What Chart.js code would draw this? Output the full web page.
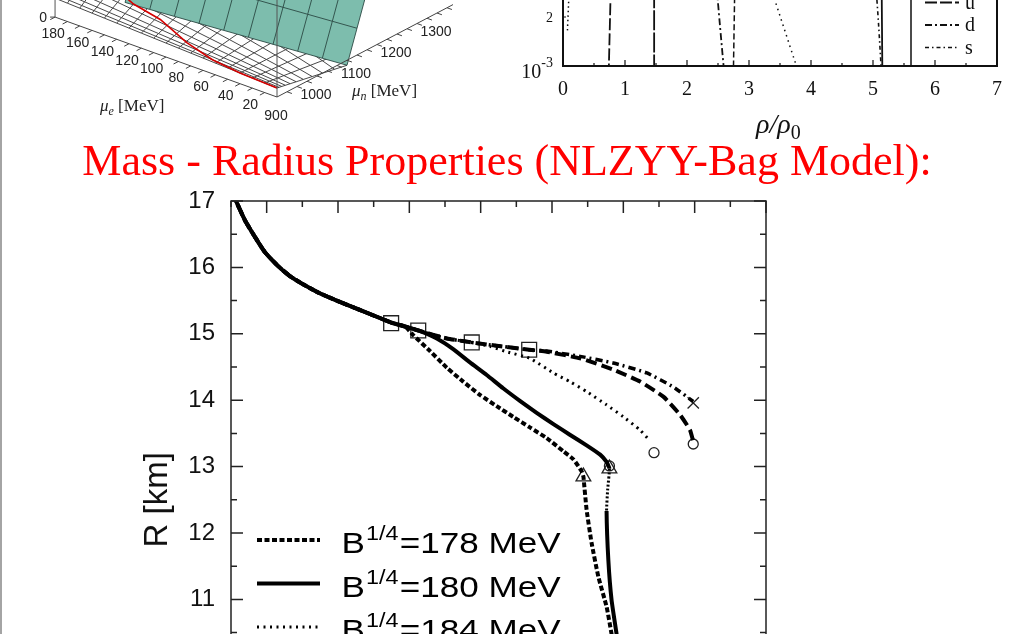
<!DOCTYPE html>
<html>
<head>
<meta charset="utf-8">
<script src="https://cdn.jsdelivr.net/npm/chart.js@4.4.0/dist/chart.umd.min.js"></script>
<style>
html, body { margin: 0; padding: 0; width: 1014px; height: 634px; overflow: hidden; background: #fff; }
canvas { position: absolute; }
#edge { position: absolute; left: 0; top: 0; width: 2px; height: 634px; background: #a4a4a4; }
#title { position: absolute; left: 0; top: 139px; width: 1014px; text-align: center; white-space: nowrap;
         font: 44px/44px "Liberation Serif", serif; color: #ff0000; }
#surf { left: 0; top: 0; }
#frac { left: 470px; top: -480px; }
#mr { left: 100px; top: 170px; }
</style>
</head>
<body>
<div id="edge"></div>
<canvas id="surf" width="470" height="130"></canvas>
<canvas id="frac" width="544" height="640"></canvas>
<div id="title">Mass - Radius Properties (NLZYY-Bag Model):</div>
<canvas id="mr" width="700" height="700"></canvas>
<script>
// ---------- mass-radius curves (M in solar masses, R in km) ----------
const massCommon   = [0.500, 0.514, 0.539, 0.567, 0.595, 0.632, 0.665, 0.707, 0.749, 0.805, 0.861, 0.949, 0.988];
const radiusCommon = [17.16, 17.00, 16.71, 16.46, 16.23, 16.02, 15.87, 15.73, 15.61, 15.48, 15.36, 15.17, 15.11];

const mass178   = [1.011, 1.058, 1.105, 1.151, 1.198, 1.245, 1.291, 1.338, 1.385, 1.432, 1.460, 1.483, 1.488, 1.489, 1.497, 1.511, 1.530, 1.553, 1.567, 1.579];
const radius178 = [14.98, 14.74, 14.49, 14.28, 14.08, 13.91, 13.75, 13.59, 13.43, 13.23, 13.11, 12.93, 12.85, 12.80, 12.35, 11.85, 11.34, 10.89, 10.48, 10.10];

const mass180   = [1.025, 1.077, 1.123, 1.170, 1.217, 1.263, 1.310, 1.357, 1.404, 1.450, 1.497, 1.535, 1.553, 1.561, 1.556, 1.553, 1.558, 1.567, 1.581, 1.591];
const radius180 = [15.05, 14.93, 14.77, 14.57, 14.38, 14.18, 13.99, 13.81, 13.64, 13.48, 13.32, 13.18, 13.07, 12.97, 12.65, 12.33, 11.59, 10.99, 10.48, 10.09];
const dotted180 = [13, 15]; // point range of mass180 drawn dotted

const massUpper   = [1.025, 1.105, 1.175];
const radiusUpper = [15.05, 14.93, 14.87];

const mass184   = [1.226, 1.273, 1.338, 1.404, 1.450, 1.497, 1.553, 1.600, 1.647, 1.674];
const radius184 = [14.81, 14.73, 14.63, 14.41, 14.28, 14.13, 13.93, 13.75, 13.55, 13.39];

const mass190   = [1.245, 1.336, 1.385, 1.479, 1.572, 1.647, 1.713, 1.759, 1.787, 1.796];
const radius190 = [14.82, 14.76, 14.73, 14.63, 14.46, 14.28, 14.05, 13.78, 13.55, 13.38];

const mass200   = [1.245, 1.336, 1.385, 1.479, 1.572, 1.666, 1.740, 1.796];
const radius200 = [14.82, 14.76, 14.74, 14.66, 14.56, 14.41, 14.20, 13.98];

const bagValues = [178, 180, 184, 190, 200];

const squareMass = [0.949, 1.025, 1.175, 1.336], squareRadius = [15.16, 15.05, 14.87, 14.76];
const triangleMass = [1.488, 1.561], triangleRadius = [12.85, 12.97];
const circleMass = [1.561, 1.686, 1.796], circleRadius = [13.01, 13.21, 13.34];
const crossMass = [1.796], crossRadius = [13.96];

// ---------- particle fractions panel (top right), log y ----------
const rhoE  = [0.10, 0.07],        fracE  = [0.0030, 0.0016];
const rhoU  = [0.77, 0.74],        fracU  = [0.0030, 0.0010];
const rhoMu = [1.47, 1.47],        fracMu = [0.0030, 0.0010];
const rhoD  = [2.48, 2.53, 2.59],  fracD  = [0.0030, 0.0018, 0.0010];
const rhoN  = [2.77, 2.75],        fracN  = [0.0030, 0.0010];
const rhoP  = [3.38, 3.75],        fracP  = [0.0028, 0.00104];
const rhoS  = [5.05, 5.09, 5.13],  fracS  = [0.0030, 0.0018, 0.0010];
const rhoL  = [5.14, 5.15],        fracL  = [0.0030, 0.0010];
const fracLegend = ['n', 'p', 'e', 'μ', 'u', 'd', 's'];
const fracYTicks = [0.001, 0.002, 0.005, 0.01, 0.02, 0.05, 0.1, 0.2, 0.5, 1];

// ---------- 3D surface panel (top left), grid in MeV ----------
const surfMuE = [0, 10, 20, 30, 40, 50, 60, 70, 80, 90, 100, 110, 120, 130, 140, 150, 160, 170, 180];
const surfMuN = [900, 905, 912, 921, 933, 948, 966, 988, 1014, 1044, 1075];
const tealMuE = [0, 20, 40, 60, 80, 100, 120, 140, 160, 180];
const tealMuN = [1075, 1100, 1125, 1150, 1175, 1200, 1250, 1300];
const redMuE  = [0, 30, 54, 79, 107, 130, 145];
const redMuN  = [900, 900, 905, 918, 938, 942, 950];
const muELabels = [20, 40, 60, 80, 100, 120, 140, 160, 180];
const muNLabels = [900, 1000, 1100, 1200, 1300];

const pts = (xs, ys) => xs.map((x, i) => ({x: x, y: ys[i]}));

// ================= main M-R chart =================
function isMajorMass(v) {
    return Math.abs(Math.round(v * 5) - v * 5) < 1e-6;
}

const mrFrame = {
    id: 'mrFrame',
    afterDatasetsDraw(chart) {
        const {ctx, chartArea: a, scales: {x, y}} = chart;
        ctx.save();
        ctx.strokeStyle = '#222';
        ctx.lineWidth = 1.5;
        ctx.strokeRect(a.left, a.top, a.right - a.left, a.bottom - a.top);
        ctx.beginPath();
        x.ticks.forEach(t => {
            const p = x.getPixelForValue(t.value);
            const len = isMajorMass(t.value) ? 12 : 6;
            ctx.moveTo(p, a.top); ctx.lineTo(p, a.top + len);
            ctx.moveTo(p, a.bottom); ctx.lineTo(p, a.bottom - len);
        });
        y.ticks.forEach(t => {
            const p = y.getPixelForValue(t.value);
            const len = Number.isInteger(t.value) ? 12 : 6;
            ctx.moveTo(a.left, p); ctx.lineTo(a.left + len, p);
            ctx.moveTo(a.right, p); ctx.lineTo(a.right - len, p);
        });
        ctx.stroke();
        ctx.restore();
    }
};

const bagLegend = {
    id: 'bagLegend',
    afterDraw(chart) {
        const {ctx, chartArea: a} = chart;
        chart.data.datasets.filter(d => d.bag).forEach((d, i) => {
            const yy = a.top + 339 + i * 43.5;
            ctx.save();
            ctx.strokeStyle = '#000';
            ctx.lineWidth = d.borderWidth;
            ctx.lineCap = 'butt';
            ctx.setLineDash(d.borderDash || []);
            ctx.beginPath();
            ctx.moveTo(a.left + 26, yy);
            ctx.lineTo(a.left + 89, yy);
            ctx.stroke();
            ctx.translate(a.left + 110.5, yy);
            ctx.scale(1.17, 1);
            ctx.fillStyle = '#000';
            ctx.font = '30px "Liberation Sans"';
            ctx.fillText('B', 0, 13);
            let w = ctx.measureText('B').width + 1;
            ctx.font = '20px "Liberation Sans"';
            ctx.fillText('1/4', w, 0);
            w += ctx.measureText('1/4').width + 1;
            ctx.font = '30px "Liberation Sans"';
            ctx.fillText('=' + d.bag + ' MeV', w, 13);
            ctx.restore();
        });
    }
};

const curve = (label, bag, xs, ys, width, dash) => ({
    label: label, bag: bag, data: pts(xs, ys),
    borderColor: '#000', borderWidth: width, borderDash: dash, borderCapStyle: 'butt',
    pointRadius: 0, fill: false, tension: 0.15
});
const marks = (xs, ys, style, r) => ({
    data: pts(xs, ys), showLine: false, pointStyle: style, pointRadius: r,
    pointBorderWidth: 1.3, pointBorderColor: '#222', pointBackgroundColor: 'rgba(0,0,0,0)', borderColor: '#222'
});

const off180 = massCommon.length;
const in180Dots = c => c.p0DataIndex >= off180 + dotted180[0] && c.p0DataIndex < off180 + dotted180[1];
const set180 = curve('B1/4=180 MeV', bagValues[1], [...massCommon, ...mass180], [...radiusCommon, ...radius180], 4, []);
set180.segment = {
    borderDash: c => in180Dots(c) ? [2, 2] : undefined,
    borderWidth: c => in180Dots(c) ? 3 : undefined
};

new Chart(document.getElementById('mr'), {
    type: 'line',
    data: {
        datasets: [
            curve('B1/4=178 MeV', bagValues[0], [...massCommon, ...mass178], [...radiusCommon, ...radius178], 4, [5, 2.5]),
            set180,
            curve('B1/4=184 MeV', bagValues[2], [...massCommon, ...massUpper, ...mass184], [...radiusCommon, ...radiusUpper, ...radius184], 3, [2, 4.5]),
            curve('B1/4=190 MeV', bagValues[3], [...massCommon, ...massUpper, ...mass190], [...radiusCommon, ...radiusUpper, ...radius190], 4, [11, 5]),
            curve('B1/4=200 MeV', bagValues[4], [...massCommon, ...massUpper, ...mass200], [...radiusCommon, ...radiusUpper, ...radius200], 3.5, [7, 4, 2, 4]),
            marks(squareMass, squareRadius, 'rect', 10.5),
            marks(triangleMass, triangleRadius, 'triangle', 8.5),
            marks(circleMass, circleRadius, 'circle', 5),
            marks(crossMass, crossRadius, 'crossRot', 8)
        ]
    },
    options: {
        responsive: false,
        animation: false,
        layout: {padding: {top: 31, right: 34, bottom: 0, left: 0}},
        plugins: {legend: {display: false}, tooltip: {enabled: false}},
        scales: {
            x: {
                type: 'linear', min: 0.5, max: 2.0,
                afterFit: s => { s.height = 71.4; },
                grid: {display: false, drawTicks: false}, border: {display: false},
                ticks: {stepSize: 0.1, autoSkip: false, maxRotation: 0, padding: 12, color: '#111',
                        font: {family: 'Liberation Sans', size: 24},
                        callback: v => isMajorMass(v) ? v.toFixed(1) : ''}
            },
            y: {
                type: 'linear', min: 8, max: 17,
                afterFit: s => { s.width = 131; },
                grid: {display: false, drawTicks: false}, border: {display: false},
                ticks: {stepSize: 0.5, autoSkip: false, padding: 16, color: '#111',
                        font: {family: 'Liberation Sans', size: 24},
                        callback: v => Number.isInteger(v) ? String(v) : ''},
                title: {display: true, text: 'R [km]', color: '#111',
                        font: {family: 'Liberation Sans', size: 33}, padding: {top: 38, bottom: 0}}
            }
        }
    },
    plugins: [mrFrame, bagLegend]
});

// ================= particle fraction panel =================
const fracFrame = {
    id: 'fracFrame',
    afterDatasetsDraw(chart) {
        const {ctx, chartArea: a, scales: {x, y}} = chart;
        ctx.save();
        ctx.strokeStyle = '#111';
        ctx.lineWidth = 2;
        ctx.strokeRect(a.left, a.top, a.right - a.left, a.bottom - a.top);
        ctx.lineWidth = 1.2;
        ctx.beginPath();
        x.ticks.forEach(t => {
            const p = x.getPixelForValue(t.value);
            const len = Number.isInteger(t.value) ? 6 : 3;
            ctx.moveTo(p, a.bottom); ctx.lineTo(p, a.bottom - len);
            ctx.moveTo(p, a.top); ctx.lineTo(p, a.top + len);
        });
        fracYTicks.forEach(v => {
            const p = y.getPixelForValue(v);
            const len = Math.abs(Math.log10(v) - Math.round(Math.log10(v))) < 1e-9 ? 6 : 3;
            ctx.moveTo(a.left, p); ctx.lineTo(a.left + len, p);
        });
        ctx.stroke();

        // y tick labels
        ctx.fillStyle = '#111';
        ctx.textAlign = 'right';
        fracYTicks.forEach(v => {
            const p = y.getPixelForValue(v);
            const e = Math.round(Math.log10(v));
            if (Math.abs(Math.log10(v) - e) < 1e-9) {
                ctx.font = '14px "Liberation Serif"';
                const sup = String(e);
                const ws = ctx.measureText(sup).width;
                ctx.fillText(sup, a.left - 10, p + 0.5);
                ctx.font = '20px "Liberation Serif"';
                ctx.fillText('10', a.left - 10 - ws, p + 12);
            } else {
                ctx.font = '14px "Liberation Serif"';
                ctx.fillText(String(Math.round(v / Math.pow(10, Math.floor(Math.log10(v))))), a.left - 10, p + 5);
            }
        });

        // x axis title
        ctx.textAlign = 'left';
        ctx.font = 'italic 28px "Liberation Serif"';
        const xt = (a.left + a.right) / 2 - 24;
        ctx.fillText('ρ/ρ', xt, a.bottom + 67);
        const wt = ctx.measureText('ρ/ρ').width;
        ctx.font = '20px "Liberation Serif"';
        ctx.fillText('0', xt + wt, a.bottom + 73);

        // legend box
        ctx.lineWidth = 1.5;
        ctx.strokeRect(a.right - 86, a.top, 86, a.bottom - a.top);
        fracLegend.forEach((lab, i) => {
            const d = chart.data.datasets.find(s => s.label === lab);
            const yy = a.bottom - 18.5 - (fracLegend.length - 1 - i) * 22.5;
            ctx.strokeStyle = '#111';
            ctx.lineWidth = d.borderWidth;
            ctx.setLineDash(d.borderDash || []);
            ctx.beginPath();
            ctx.moveTo(a.right - 72, yy);
            ctx.lineTo(a.right - 38, yy);
            ctx.stroke();
            ctx.setLineDash([]);
            ctx.font = '20px "Liberation Serif"';
            ctx.fillText(lab, a.right - 32, yy + 6);
        });
        ctx.restore();
    }
};

const frac = (label, xs, ys, dash, width) => ({
    label: label, data: pts(xs, ys), borderColor: '#111', borderWidth: width, borderDash: dash,
    pointRadius: 0, fill: false, tension: 0.3
});

new Chart(document.getElementById('frac'), {
    type: 'line',
    data: {
        datasets: [
            frac('e', rhoE, fracE, [1.5, 3], 1.5),
            frac('u', rhoU, fracU, [12, 3], 1.8),
            frac('μ', rhoMu, fracMu, [20, 2], 1.8),
            frac('d', rhoD, fracD, [7, 3, 2, 3], 1.8),
            frac('n', rhoN, fracN, [6, 3], 1.5),
            frac('p', rhoP, fracP, [1.5, 4], 1.5),
            frac('s', rhoS, fracS, [4, 3, 1.5, 3], 1.6),
            frac('Λ', rhoL, fracL, [], 1.8)
        ]
    },
    options: {
        responsive: false,
        animation: false,
        layout: {padding: {top: 57.6, right: 14, bottom: 0, left: 0}},
        plugins: {legend: {display: false}, tooltip: {enabled: false}},
        scales: {
            x: {
                type: 'linear', min: 0, max: 7,
                afterFit: s => { s.height = 94; },
                grid: {display: false, drawTicks: false}, border: {display: false},
                ticks: {stepSize: 0.5, autoSkip: false, maxRotation: 0, padding: 12, color: '#111',
                        font: {family: 'Liberation Serif', size: 20},
                        callback: v => Number.isInteger(v) ? String(v) : ''}
            },
            y: {
                type: 'logarithmic', min: 0.001, max: 1,
                afterFit: s => { s.width = 93; },
                afterBuildTicks: s => { s.ticks = fracYTicks.map(v => ({value: v})); },
                grid: {display: false, drawTicks: false}, border: {display: false},
                ticks: {callback: () => ''}
            }
        }
    },
    plugins: [fracFrame]
});

// ================= 3D surface panel =================
const proj = (me, mn, z) => ({x: 277 - 1.233 * me + 0.40 * (mn - 900), y: 97 - 0.444 * me - 0.21 * (mn - 900) - z});
const meshZ = (me, mn) => 9 - 14 * (mn - 900) / 175 + me * (0.055 + 0.0025 * (mn - 900));
const tealZ = (me, mn) => 1.27 * (mn - 1075) - 0.095 * me - 5;

const line3d = (data, color, width, order) => ({
    data: data, borderColor: color, borderWidth: width, pointRadius: 0, fill: false, tension: 0, order: order
});

const surfSets = [];
surfMuE.forEach(me => surfSets.push(line3d(surfMuN.map(mn => proj(me, mn, meshZ(me, mn))), '#333', 0.9, 4)));
surfMuN.forEach(mn => surfSets.push(line3d(surfMuE.map(me => proj(me, mn, meshZ(me, mn))), '#333', 0.9, 4)));
const tealCorners = [[0, 1075], [180, 1075], [180, 1300], [0, 1300]];
surfSets.push(Object.assign(line3d(tealCorners.map(c => proj(c[0], c[1], tealZ(c[0], c[1]))), 'rgba(0,0,0,0)', 0, 3),
    {showLine: false, tealFill: '#7dbdad'}));
tealMuE.forEach(me => surfSets.push(line3d(tealMuN.map(mn => proj(me, mn, tealZ(me, mn))), '#2b4a44', 0.9, 2)));
tealMuN.forEach(mn => surfSets.push(line3d(tealMuE.map(me => proj(me, mn, tealZ(me, mn))), '#2b4a44', 0.9, 2)));
surfSets.push(line3d(redMuE.map((me, i) => proj(me, redMuN[i], meshZ(me, redMuN[i]))), '#d40000', 1.6, 1));
surfSets.push(line3d([proj(0, 900, 0), proj(180, 900, 0)], '#444', 1, 0));
surfSets.push(line3d([proj(0, 900, 0), proj(0, 1340, 0)], '#444', 1, 0));
surfSets.push(line3d([proj(0, 900, 0), proj(0, 900, 140)], '#555', 1, 0));
surfSets.push(line3d([proj(180, 900, 0), proj(180, 900, 40)], '#555', 1, 0));

const surfDecor = {
    id: 'surfDecor',
    beforeDatasetDraw(chart, args) {
        const ds = chart.data.datasets[args.index];
        if (!ds.tealFill) return;
        const ctx = chart.ctx;
        ctx.save();
        ctx.fillStyle = ds.tealFill;
        ctx.beginPath();
        args.meta.data.forEach((p, i) => i ? ctx.lineTo(p.x, p.y) : ctx.moveTo(p.x, p.y));
        ctx.closePath();
        ctx.fill();
        ctx.restore();
    },
    afterDatasetsDraw(chart) {
        const {ctx, scales: {x, y}} = chart;
        const px = p => ({x: x.getPixelForValue(p.x), y: y.getPixelForValue(p.y)});
        ctx.save();
        ctx.strokeStyle = '#444';
        ctx.lineWidth = 1;
        ctx.beginPath();
        for (let me = 10; me <= 180; me += 10) {
            const a = px(proj(me, 900, 0)), b = px(proj(me, 888, 0));
            ctx.moveTo(a.x, a.y); ctx.lineTo(b.x, b.y);
        }
        for (let mn = 925; mn <= 1325; mn += 25) {
            const a = px(proj(0, mn, 0)), b = px(proj(-4, mn, 0));
            ctx.moveTo(a.x, a.y); ctx.lineTo(b.x, b.y);
        }
        const z0 = px(proj(180, 900, 0));
        ctx.moveTo(z0.x, z0.y); ctx.lineTo(z0.x - 5, z0.y);
        ctx.stroke();

        ctx.fillStyle = '#222';
        ctx.textAlign = 'center';
        ctx.textBaseline = 'middle';
        ctx.font = '14px "Liberation Sans"';
        muELabels.forEach(me => {
            const p = px(proj(me, 900, 0));
            ctx.fillText(String(me), p.x - 2, p.y + 17);
        });
        muNLabels.forEach(mn => {
            const p = px(proj(0, mn, 0));
            ctx.fillText(String(mn), p.x - 1, p.y + 19);
        });
        ctx.fillText('0', z0.x - 12, z0.y + 1);

        ctx.textAlign = 'left';
        ctx.textBaseline = 'alphabetic';
        [['e', 100, 111], ['n', 352, 96]].forEach(([sub, tx, ty]) => {
            ctx.font = 'italic 17px "Liberation Serif"';
            ctx.fillText('μ', tx, ty);
            let w = ctx.measureText('μ').width;
            ctx.font = 'italic 12px "Liberation Serif"';
            ctx.fillText(sub, tx + w, ty + 4);
            w += ctx.measureText(sub).width;
            ctx.font = '17px "Liberation Serif"';
            ctx.fillText(' [MeV]', tx + w, ty);
        });
        ctx.restore();
    }
};

new Chart(document.getElementById('surf'), {
    type: 'line',
    data: {datasets: surfSets},
    options: {
        responsive: false,
        animation: false,
        layout: {padding: 0},
        plugins: {legend: {display: false}, tooltip: {enabled: false}},
        scales: {
            x: {type: 'linear', min: 0, max: 470, display: false},
            y: {type: 'linear', min: 0, max: 130, reverse: true, display: false}
        }
    },
    plugins: [surfDecor]
});
</script>
</body>
</html>
